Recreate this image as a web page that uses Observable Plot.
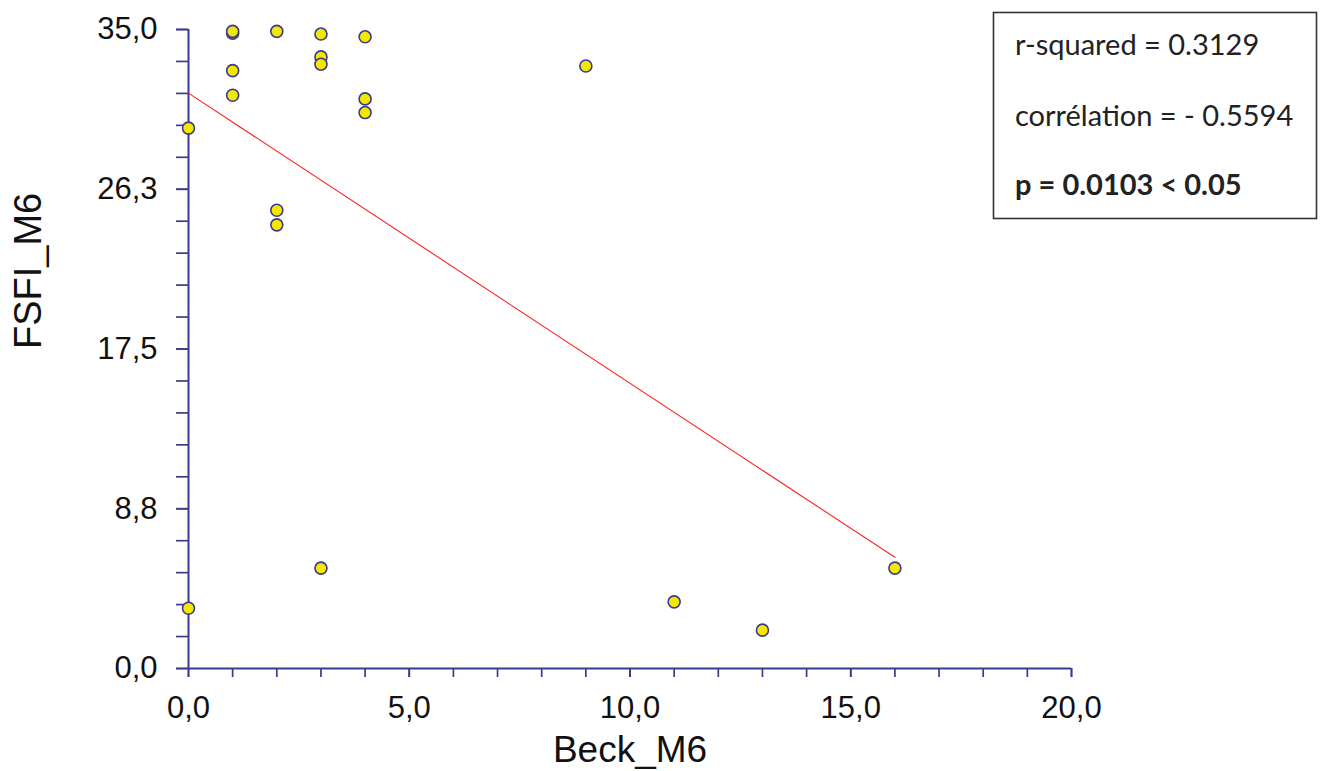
<!DOCTYPE html>
<html><head><meta charset="utf-8">
<script src="https://cdn.jsdelivr.net/npm/d3@7"></script>
<script src="https://cdn.jsdelivr.net/npm/@observablehq/plot@0.6"></script>
<style>
body{margin:0;background:#fff;}
#wrap{position:relative;width:1326px;height:771px;overflow:hidden;}
#wrap svg{display:block;}
</style></head><body><div id="wrap"></div>
<script>
// Data
const beck = [0, 0, 1, 1, 1, 1, 2, 2, 2, 3, 3, 3, 3, 4, 4, 4, 9, 11, 13, 16];
const fsfi = [29.6, 3.3, 34.8, 34.9, 32.75, 31.4, 34.9, 25.1, 24.3, 34.75, 33.5, 33.1, 5.5, 34.6, 31.2, 30.45, 33.0, 3.65, 2.1, 5.5];

const xTickValues = [0, 5, 10, 15, 20];
const xTickLabels = ["0,0", "5,0", "10,0", "15,0", "20,0"];
const yTickValues = [0, 8.75, 17.5, 26.25, 35];
const yTickLabels = ["0,0", "8,8", "17,5", "26,3", "35,0"];

const xTitle = "Beck_M6";
const yTitle = "FSFI_M6";
const statLines = ["r-squared = 0.3129", "corrélation = - 0.5594", "p = 0.0103 < 0.05"];

const data = beck.map((b, i) => ({beck: b, fsfi: fsfi[i]}));
const xLab = new Map(xTickValues.map((v, i) => [v, xTickLabels[i]]));
const yLab = new Map(yTickValues.map((v, i) => [v, yTickLabels[i]]));
const xMinor = d3.range(0, 20.001, 1);
const yMinor = d3.range(0, 35.001, 1.75);

const navy = "#3a3a8e";
const font = "'Liberation Sans', Arial, sans-serif";

const chart = Plot.plot({
  width: 1326,
  height: 771,
  marginLeft: 188,
  marginRight: 255,
  marginTop: 29,
  marginBottom: 103,
  style: {fontFamily: font, fontSize: "31px", color: "#111", background: "#fff"},
  x: {domain: [0, 20]},
  y: {domain: [0, 35]},
  marks: [
    Plot.axisX(xMinor, {tickSize: 9, tickFormat: () => "", stroke: navy, strokeWidth: 1.7, label: null}),
    Plot.axisX(xTickValues, {tickSize: 9, tickPadding: 18, tickFormat: d => xLab.get(d), stroke: navy, fill: "#111", strokeWidth: 1.7, label: null}),
    Plot.axisY(yMinor, {tickSize: 12, tickFormat: () => "", stroke: navy, strokeWidth: 1.7, label: null}),
    Plot.axisY(yTickValues, {tickSize: 12, tickPadding: 19, tickFormat: d => yLab.get(d), stroke: navy, fill: "#111", strokeWidth: 1.7, label: null}),
    Plot.ruleX([0], {stroke: navy, strokeWidth: 2}),
    Plot.ruleY([0], {stroke: navy, strokeWidth: 2}),
    Plot.linearRegressionY(data, {x: "beck", y: "fsfi", stroke: "#ff2020", strokeWidth: 1.1, ci: 0}),
    Plot.dot(data, {x: "beck", y: "fsfi", r: 6, fill: "#f4e800", stroke: navy, strokeWidth: 1.6}),
    Plot.text([xTitle], {frameAnchor: "bottom", lineAnchor: "middle", dy: 82, fontSize: 37, fill: "#111"}),
    Plot.text([yTitle], {frameAnchor: "left", lineAnchor: "middle", rotate: -90, dx: -160, fontSize: 38, fill: "#111"})
  ]
});
document.getElementById("wrap").appendChild(chart);

// Statistics box (overlay)
const ov = d3.select("#wrap").append("svg")
  .attr("width", 1326).attr("height", 771)
  .style("position", "absolute").style("left", "0px").style("top", "0px")
  .style("pointer-events", "none");
ov.append("rect").attr("x", 993.5).attr("y", 12.5).attr("width", 323).attr("height", 206)
  .attr("fill", "#fff").attr("stroke", "#333").attr("stroke-width", 1.6);
const baselines = [55, 126, 195];
ov.selectAll("text.stat").data(statLines).join("text")
  .attr("class", "stat")
  .attr("x", 1015).attr("y", (d, i) => baselines[i])
  .attr("font-family", "Lato, 'Open Sans', sans-serif")
  .attr("font-size", 29)
  .attr("font-weight", (d, i) => i === 2 ? 700 : 400)
  .attr("fill", "#222")
  .text(d => d);
</script>
</body></html>
